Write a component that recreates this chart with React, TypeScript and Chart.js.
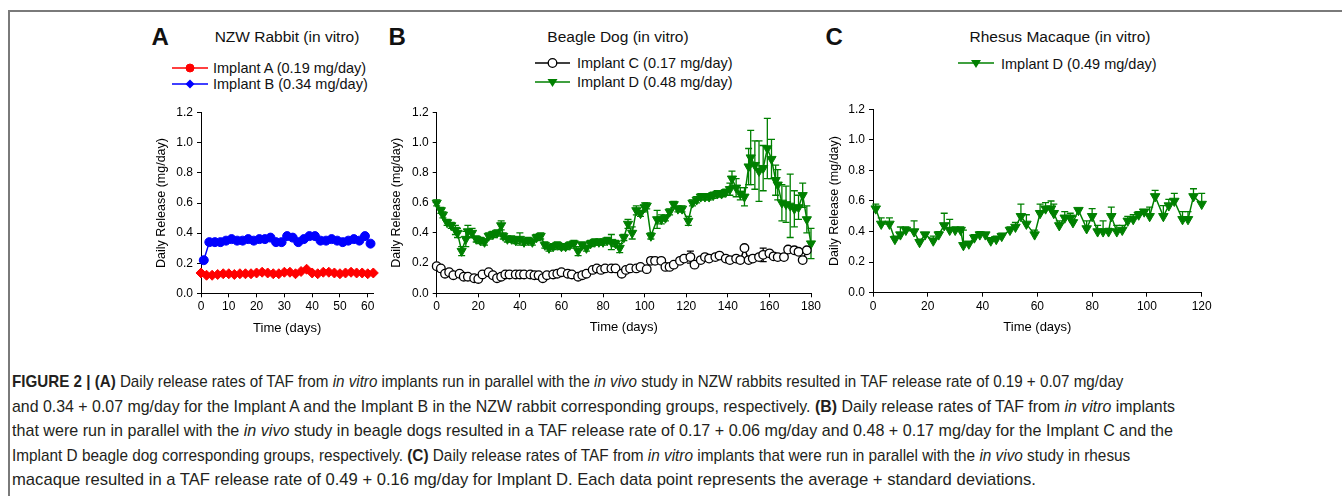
import React, { useEffect, useLayoutEffect, useRef } from "react";
import { Chart, registerables } from "chart.js";

Chart.register(...registerables);

const FONT = '"Liberation Sans", Arial, Helvetica, sans-serif';
const RED = "#ff0000";
const BLUE = "#0000ff";
const GREEN = "#008000";
const BLACK = "#000000";

// ---------- Panel A: NZW Rabbit ----------
const rabbitDaysA = [0, 2, 4, 6, 8, 10, 12, 14, 16, 18, 20, 22, 24, 26, 28, 30, 32, 34, 36, 38, 40, 42, 44, 46, 48, 50, 52, 54, 56, 58, 60, 62];
const rabbitImplantA = [0.135, 0.12, 0.12, 0.125, 0.13, 0.13, 0.125, 0.13, 0.13, 0.13, 0.135, 0.14, 0.135, 0.13, 0.13, 0.14, 0.14, 0.13, 0.145, 0.16, 0.135, 0.13, 0.14, 0.14, 0.135, 0.13, 0.135, 0.14, 0.135, 0.135, 0.13, 0.135];
const rabbitDaysB = [1, 3, 5, 7, 9, 11, 13, 15, 17, 19, 21, 23, 25, 27, 29, 31, 33, 35, 37, 39, 41, 43, 45, 47, 49, 51, 53, 55, 57, 59, 61];
const rabbitImplantB = [0.22, 0.34, 0.34, 0.34, 0.35, 0.36, 0.35, 0.35, 0.36, 0.35, 0.36, 0.36, 0.37, 0.34, 0.34, 0.38, 0.37, 0.34, 0.36, 0.38, 0.38, 0.35, 0.35, 0.36, 0.35, 0.34, 0.35, 0.36, 0.35, 0.38, 0.33];

// ---------- Panel B: Beagle Dog ----------
const dogDaysC = [0, 2, 4, 6, 8, 11, 13, 15, 18, 20, 22, 25, 27, 29, 31, 33, 35, 38, 40, 42, 45, 47, 49, 51, 53, 56, 58, 60, 63, 65, 68, 70, 72, 75, 77, 79, 81, 84, 86, 89, 91, 93, 96, 98, 101, 103, 105, 108, 110, 112, 114, 117, 119, 122, 124, 127, 129, 131, 134, 136, 139, 141, 144, 146, 148, 150, 152, 155, 157, 160, 162, 164, 167, 169, 172, 174, 176, 178];
const dogImplantC = [0.18, 0.165, 0.13, 0.14, 0.12, 0.13, 0.11, 0.11, 0.1, 0.095, 0.125, 0.14, 0.12, 0.1, 0.11, 0.125, 0.125, 0.125, 0.125, 0.125, 0.125, 0.12, 0.12, 0.1, 0.12, 0.125, 0.13, 0.14, 0.13, 0.125, 0.11, 0.12, 0.13, 0.155, 0.165, 0.155, 0.165, 0.165, 0.165, 0.13, 0.155, 0.165, 0.165, 0.175, 0.16, 0.215, 0.215, 0.215, 0.175, 0.175, 0.19, 0.215, 0.23, 0.24, 0.19, 0.22, 0.24, 0.23, 0.24, 0.25, 0.23, 0.22, 0.23, 0.22, 0.3, 0.22, 0.23, 0.24, 0.255, 0.265, 0.245, 0.24, 0.24, 0.29, 0.285, 0.275, 0.22, 0.285];
const dogErrC = [0.01, 0.01, 0.01, 0.01, 0.01, 0.01, 0.01, 0.01, 0.01, 0.01, 0.01, 0.01, 0.01, 0.01, 0.01, 0.01, 0.01, 0.01, 0.01, 0.01, 0.01, 0.01, 0.01, 0.01, 0.01, 0.01, 0.01, 0.01, 0.01, 0.01, 0.01, 0.01, 0.01, 0.01, 0.01, 0.01, 0.01, 0.01, 0.01, 0.01, 0.01, 0.01, 0.01, 0.01, 0.01, 0.02, 0.01, 0.01, 0.01, 0.01, 0.01, 0.01, 0.01, 0.04, 0.01, 0.01, 0.01, 0.01, 0.01, 0.01, 0.01, 0.01, 0.01, 0.01, 0.01, 0.01, 0.01, 0.01, 0.045, 0.01, 0.01, 0.01, 0.01, 0.01, 0.01, 0.01, 0.01, 0.01];
const dogDaysD = [0, 2, 3, 5, 7, 9, 10, 12, 14, 15, 17, 19, 21, 23, 25, 27, 29, 31, 32, 34, 36, 38, 40, 42, 44, 46, 48, 50, 52, 54, 56, 58, 60, 62, 64, 66, 68, 70, 72, 74, 76, 78, 80, 82, 84, 86, 88, 90, 92, 94, 96, 98, 100, 101, 103, 106, 108, 110, 112, 114, 116, 118, 121, 123, 125, 127, 129, 131, 133, 135, 137, 139, 141, 142, 144, 146, 148, 150, 151, 153, 155, 157, 159, 161, 163, 164, 166, 168, 170, 172, 174, 176, 178, 180];
const dogImplantD = [0.6, 0.55, 0.52, 0.47, 0.45, 0.42, 0.4, 0.28, 0.36, 0.41, 0.4, 0.36, 0.35, 0.34, 0.38, 0.39, 0.4, 0.45, 0.38, 0.36, 0.36, 0.35, 0.36, 0.34, 0.35, 0.34, 0.37, 0.38, 0.32, 0.3, 0.31, 0.32, 0.31, 0.31, 0.32, 0.33, 0.28, 0.32, 0.3, 0.33, 0.34, 0.34, 0.34, 0.35, 0.34, 0.33, 0.3, 0.37, 0.46, 0.4, 0.55, 0.53, 0.57, 0.58, 0.38, 0.49, 0.49, 0.5, 0.54, 0.59, 0.56, 0.56, 0.48, 0.6, 0.62, 0.64, 0.64, 0.64, 0.65, 0.66, 0.66, 0.67, 0.69, 0.76, 0.7, 0.66, 0.64, 0.84, 0.9, 0.85, 0.81, 0.83, 0.96, 0.89, 0.75, 0.72, 0.6, 0.59, 0.58, 0.56, 0.57, 0.65, 0.49, 0.33];
const dogErrD = [0.02, 0.02, 0.02, 0.02, 0.02, 0.03, 0.03, 0.03, 0.05, 0.04, 0.03, 0.02, 0.02, 0.02, 0.02, 0.02, 0.02, 0.03, 0.02, 0.02, 0.02, 0.02, 0.04, 0.02, 0.02, 0.02, 0.02, 0.02, 0.02, 0.02, 0.02, 0.02, 0.02, 0.02, 0.02, 0.02, 0.03, 0.02, 0.02, 0.02, 0.02, 0.02, 0.02, 0.02, 0.05, 0.02, 0.03, 0.02, 0.03, 0.04, 0.03, 0.02, 0.03, 0.02, 0.02, 0.06, 0.03, 0.02, 0.02, 0.02, 0.02, 0.02, 0.03, 0.02, 0.02, 0.02, 0.02, 0.02, 0.02, 0.02, 0.02, 0.02, 0.04, 0.05, 0.06, 0.04, 0.06, 0.12, 0.18, 0.16, 0.2, 0.15, 0.2, 0.13, 0.1, 0.1, 0.12, 0.12, 0.21, 0.12, 0.08, 0.08, 0.09, 0.1];

// ---------- Panel C: Rhesus Macaque ----------
const macaqueDays = [1, 3, 6, 8, 10, 12, 15, 17, 19, 22, 24, 26, 28, 30, 32, 33, 35, 37, 39, 41, 43, 45, 47, 50, 52, 54, 56, 59, 61, 63, 65, 66, 68, 70, 72, 73, 75, 78, 80, 82, 84, 86, 87, 89, 91, 93, 95, 97, 99, 101, 103, 106, 108, 110, 113, 115, 117, 120];
const macaqueImplantD = [0.55, 0.45, 0.45, 0.35, 0.38, 0.41, 0.4, 0.33, 0.38, 0.34, 0.38, 0.44, 0.41, 0.41, 0.41, 0.31, 0.32, 0.36, 0.38, 0.38, 0.34, 0.35, 0.37, 0.41, 0.43, 0.5, 0.45, 0.38, 0.52, 0.55, 0.55, 0.52, 0.44, 0.49, 0.49, 0.46, 0.54, 0.42, 0.5, 0.4, 0.4, 0.4, 0.5, 0.4, 0.41, 0.47, 0.48, 0.51, 0.53, 0.5, 0.63, 0.5, 0.57, 0.6, 0.48, 0.48, 0.63, 0.58];
const macaqueErrD = [0.03, 0.04, 0.04, 0.02, 0.05, 0.02, 0.07, 0.02, 0.01, 0.03, 0.02, 0.08, 0.07, 0.02, 0.02, 0.1, 0.01, 0.02, 0.02, 0.01, 0.02, 0.02, 0.02, 0.02, 0.03, 0.08, 0.06, 0.03, 0.06, 0.04, 0.05, 0.06, 0.03, 0.04, 0.03, 0.04, 0.01, 0.05, 0.05, 0.04, 0.07, 0.02, 0.06, 0.04, 0.03, 0.03, 0.03, 0.02, 0.01, 0.06, 0.04, 0.07, 0.04, 0.05, 0.05, 0.05, 0.05, 0.07];

// ---------- Axis ticks ----------
const yTickValues = [0, 0.2, 0.4, 0.6, 0.8, 1.0, 1.2];
const xTicksA = [0, 10, 20, 30, 40, 50, 60];
const xTicksB = [0, 20, 40, 60, 80, 100, 120, 140, 160, 180];
const xTicksC = [0, 20, 40, 60, 80, 100, 120];

const toXY = (xs: number[], ys: number[]) => xs.map((x, i) => ({ x, y: ys[i] }));

const errorBarPlugin = {
  id: "errorBars",
  beforeDatasetDraw(chart: any, args: any) {
    const ds = chart.data.datasets[args.index];
    const errs: number[] | undefined = ds.errorBars;
    if (!errs) return;
    const meta = args.meta;
    const yScale = chart.scales[meta.yAxisID];
    const ctx = chart.ctx;
    const up = ds.errorMode === "up";
    ctx.save();
    ctx.strokeStyle = ds.borderColor;
    ctx.lineWidth = 1.3;
    meta.data.forEach((pt: any, i: number) => {
      const e = errs[i];
      if (!e) return;
      const v = ds.data[i].y;
      const yTop = yScale.getPixelForValue(v + e);
      const yBot = up ? pt.y : yScale.getPixelForValue(v - e);
      ctx.beginPath();
      ctx.moveTo(pt.x, yTop);
      ctx.lineTo(pt.x, yBot);
      ctx.moveTo(pt.x - 3.5, yTop);
      ctx.lineTo(pt.x + 3.5, yTop);
      if (!up) {
        ctx.moveTo(pt.x - 3.5, yBot);
        ctx.lineTo(pt.x + 3.5, yBot);
      }
      ctx.stroke();
    });
    ctx.restore();
  },
};

type Box = { left: number; top: number; right: number; bottom: number };
type PanelCfg = {
  canvas: Box;
  area: Box;
  xMax: number;
  xTicks: number[];
  yTitleX: number;
  xTitleY: number;
  datasets: any[];
};

const TICK_FONT = 12;
const YTITLE_FONT = 12.5;
const XTITLE_FONT = 13;

function buildConfig(cfg: PanelCfg): any {
  const { canvas, area } = cfg;
  const lhY = YTITLE_FONT * 1.2;
  const lhX = XTITLE_FONT * 1.2;
  const axisCommon = {
    grid: { display: true, drawOnChartArea: false, drawTicks: true, tickLength: 4, color: BLACK, lineWidth: 1 },
    border: { display: true, color: BLACK, width: 1 },
  };
  return {
    type: "line",
    data: { datasets: cfg.datasets },
    plugins: [errorBarPlugin],
    options: {
      responsive: false,
      animation: false,
      devicePixelRatio: 1,
      events: [],
      layout: {
        padding: { top: area.top - canvas.top, right: canvas.right - area.right, left: 0, bottom: 0 },
      },
      plugins: { legend: { display: false }, tooltip: { enabled: false }, title: { display: false } },
      scales: {
        x: {
          type: "linear",
          min: 0,
          max: cfg.xMax,
          ...axisCommon,
          ticks: { color: BLACK, font: { family: FONT, size: TICK_FONT }, padding: 2.5, maxRotation: 0, autoSkip: false, includeBounds: false },
          afterBuildTicks: (s: any) => {
            s.ticks = cfg.xTicks.map((v) => ({ value: v }));
          },
          title: {
            display: true,
            text: "Time (days)",
            color: BLACK,
            font: { family: FONT, size: XTITLE_FONT },
            padding: { top: 0, bottom: canvas.bottom - cfg.xTitleY - lhX / 2 },
          },
          afterFit: (s: any) => {
            s.height = canvas.bottom - area.bottom;
          },
        },
        y: {
          type: "linear",
          min: 0,
          max: 1.2,
          ...axisCommon,
          ticks: {
            color: BLACK,
            font: { family: FONT, size: TICK_FONT },
            padding: 4,
            includeBounds: false,
            callback: (v: any) => Number(v).toFixed(1),
          },
          afterBuildTicks: (s: any) => {
            s.ticks = yTickValues.map((v) => ({ value: v }));
          },
          title: {
            display: true,
            text: "Daily Release (mg/day)",
            color: BLACK,
            font: { family: FONT, size: YTITLE_FONT },
            padding: { top: cfg.yTitleX - canvas.left - lhY / 2, bottom: 0 },
          },
          afterFit: (s: any) => {
            s.width = area.left - canvas.left;
          },
        },
      },
    },
  };
}

function PanelChart({ cfg }: { cfg: PanelCfg }) {
  const ref = useRef<HTMLCanvasElement>(null);
  useEffect(() => {
    const chart = new Chart(ref.current as HTMLCanvasElement, buildConfig(cfg));
    return () => chart.destroy();
  }, [cfg]);
  const w = cfg.canvas.right - cfg.canvas.left;
  const h = cfg.canvas.bottom - cfg.canvas.top;
  return (
    <canvas
      ref={ref}
      width={w}
      height={h}
      style={{ position: "absolute", left: cfg.canvas.left, top: cfg.canvas.top, width: w, height: h }}
    />
  );
}

const lineDs = (label: string, data: any[], color: string, extra: any) => ({
  label,
  data,
  borderColor: color,
  backgroundColor: color,
  borderWidth: 1.5,
  pointBorderColor: color,
  pointBackgroundColor: color,
  pointBorderWidth: 1,
  tension: 0,
  clip: false,
  ...extra,
});

const PANEL_A: PanelCfg = {
  canvas: { left: 145, top: 95, right: 392, bottom: 345 },
  area: { left: 201, top: 112.7, right: 373.3, bottom: 293.3 },
  xMax: 62,
  xTicks: xTicksA,
  yTitleX: 162,
  xTitleY: 328,
  datasets: [
    lineDs("Implant A (0.19 mg/day)", toXY(rabbitDaysA, rabbitImplantA), RED, { pointStyle: "rectRot", pointRadius: 5 }),
    lineDs("Implant B (0.34 mg/day)", toXY(rabbitDaysB, rabbitImplantB), BLUE, { pointStyle: "circle", pointRadius: 4.5 }),
  ],
};

const PANEL_B: PanelCfg = {
  canvas: { left: 380, top: 95, right: 830, bottom: 345 },
  area: { left: 436.7, top: 112.3, right: 811, bottom: 293.3 },
  xMax: 180,
  xTicks: xTicksB,
  yTitleX: 396.7,
  xTitleY: 327,
  datasets: [
    lineDs("Implant C (0.17 mg/day)", toXY(dogDaysC, dogImplantC), BLACK, {
      pointStyle: "circle",
      pointRadius: 4.3,
      pointBackgroundColor: "#ffffff",
      pointBorderWidth: 1.3,
      errorBars: dogErrC,
      errorMode: "both",
    }),
    lineDs("Implant D (0.48 mg/day)", toXY(dogDaysD, dogImplantD), GREEN, {
      pointStyle: "triangle",
      rotation: 180,
      pointRotation: 180,
      pointRadius: 5.3,
      errorBars: dogErrD,
      errorMode: "both",
    }),
  ],
};

const PANEL_C: PanelCfg = {
  canvas: { left: 820, top: 92, right: 1222, bottom: 345 },
  area: { left: 873, top: 109.3, right: 1201.7, bottom: 292.7 },
  xMax: 120,
  xTicks: xTicksC,
  yTitleX: 835,
  xTitleY: 327,
  datasets: [
    lineDs("Implant D (0.49 mg/day)", toXY(macaqueDays, macaqueImplantD), GREEN, {
      pointStyle: "triangle",
      rotation: 180,
      pointRotation: 180,
      pointRadius: 5.5,
      errorBars: macaqueErrD,
      errorMode: "up",
    }),
  ],
};

function Marker({ type, color, cx, cy }: { type: string; color: string; cx: number; cy: number }) {
  if (type === "circle") return <circle cx={cx} cy={cy} r={4} fill={color} stroke={color} />;
  if (type === "open") return <circle cx={cx} cy={cy} r={4.3} fill="#fff" stroke={color} strokeWidth={1.3} />;
  if (type === "diamond")
    return <polygon points={`${cx},${cy - 4.5} ${cx + 4.5},${cy} ${cx},${cy + 4.5} ${cx - 4.5},${cy}`} fill={color} />;
  return <polygon points={`${cx - 5},${cy - 3} ${cx + 5},${cy - 3} ${cx},${cy + 5}`} fill={color} />;
}

function LegendItem(p: { x1: number; x2: number; y: number; textX: number; color: string; marker: string; label: string }) {
  const w = p.x2 - p.x1;
  const fs = 14.5;
  return (
    <>
      <svg style={{ position: "absolute", left: p.x1, top: p.y - 7 }} width={w} height={14}>
        <line x1={0} y1={7} x2={w} y2={7} stroke={p.color} strokeWidth={1.6} />
        <Marker type={p.marker} color={p.color} cx={w / 2} cy={7} />
      </svg>
      <div
        style={{
          position: "absolute",
          left: p.textX,
          top: p.y + 0.8 - fs / 2,
          fontFamily: FONT,
          fontSize: fs,
          lineHeight: `${fs}px`,
          whiteSpace: "nowrap",
          color: "#111",
        }}
      >
        {p.label}
      </div>
    </>
  );
}

function TextAt({ text, cx, cy, size, bold, left }: { text: string; cx?: number; cy: number; size: number; bold?: boolean; left?: number }) {
  const style: any = {
    position: "absolute",
    top: cy - size / 2,
    fontFamily: FONT,
    fontSize: size,
    lineHeight: `${size}px`,
    fontWeight: bold ? 700 : 400,
    whiteSpace: "nowrap",
    color: "#111",
  };
  if (left !== undefined) style.left = left;
  else {
    style.left = (cx as number) - 200;
    style.width = 400;
    style.textAlign = "center";
  }
  return <div style={style}>{text}</div>;
}

type Part = { t: string; b?: boolean; i?: boolean };
const captionLines: { right: number; cy: number; parts: Part[] }[] = [
  {
    right: 1123,
    cy: 381.5,
    parts: [
      { t: "FIGURE 2 | (A)", b: true },
      { t: " Daily release rates of TAF from " },
      { t: "in vitro", i: true },
      { t: " implants run in parallel with the " },
      { t: "in vivo", i: true },
      { t: " study in NZW rabbits resulted in TAF release rate of 0.19 + 0.07 mg/day" },
    ],
  },
  {
    right: 1175,
    cy: 406,
    parts: [
      { t: "and 0.34 + 0.07 mg/day for the Implant A and the Implant B in the NZW rabbit corresponding groups, respectively. " },
      { t: "(B)", b: true },
      { t: " Daily release rates of TAF from " },
      { t: "in vitro", i: true },
      { t: " implants" },
    ],
  },
  {
    right: 1173,
    cy: 430.5,
    parts: [
      { t: "that were run in parallel with the " },
      { t: "in vivo", i: true },
      { t: " study in beagle dogs resulted in a TAF release rate of 0.17 + 0.06 mg/day and 0.48 + 0.17 mg/day for the Implant C and the" },
    ],
  },
  {
    right: 1130.5,
    cy: 455,
    parts: [
      { t: "Implant D beagle dog corresponding groups, respectively. " },
      { t: "(C)", b: true },
      { t: " Daily release rates of TAF from " },
      { t: "in vitro", i: true },
      { t: " implants that were run in parallel with the " },
      { t: "in vivo", i: true },
      { t: " study in rhesus" },
    ],
  },
  {
    right: 1035.5,
    cy: 479.5,
    parts: [{ t: "macaque resulted in a TAF release rate of 0.49 + 0.16 mg/day for Implant D. Each data point represents the average + standard deviations." }],
  },
];

const CAPTION_LEFT = 12;
const CAPTION_FONT = 17;

function CaptionLine({ line }: { line: (typeof captionLines)[number] }) {
  const ref = useRef<HTMLDivElement>(null);
  useLayoutEffect(() => {
    const el = ref.current;
    if (!el) return;
    const w = el.offsetWidth;
    const target = line.right - CAPTION_LEFT;
    if (w > 0) el.style.transform = `scaleX(${target / w})`;
  }, [line]);
  return (
    <div
      ref={ref}
      style={{
        position: "absolute",
        left: CAPTION_LEFT,
        top: line.cy - CAPTION_FONT / 2,
        fontFamily: FONT,
        fontSize: CAPTION_FONT,
        lineHeight: `${CAPTION_FONT}px`,
        whiteSpace: "nowrap",
        color: "#231f20",
        transformOrigin: "0 0",
      }}
    >
      {line.parts.map((p, i) => (
        <span key={i} style={{ fontWeight: p.b ? 700 : 400, fontStyle: p.i ? "italic" : "normal" }}>
          {p.t}
        </span>
      ))}
    </div>
  );
}

export default function App() {
  return (
    <div style={{ position: "absolute", left: 0, top: 0, width: 1342, height: 496, overflow: "hidden", background: "#fff" }}>
      <div
        style={{
          position: "absolute",
          left: 8,
          top: 9.5,
          width: 1400,
          height: 600,
          borderTop: "2px solid #7a7a7a",
          borderLeft: "2px solid #7a7a7a",
        }}
      />
      <TextAt text="A" left={151.5} cy={36.5} size={24} bold />
      <TextAt text="B" left={388.5} cy={36.5} size={24} bold />
      <TextAt text="C" left={825.5} cy={36.5} size={24} bold />

      <TextAt text="NZW Rabbit (in vitro)" cx={287} cy={36.5} size={15.5} />
      <TextAt text="Beagle Dog (in vitro)" cx={618} cy={36.5} size={15.5} />
      <TextAt text="Rhesus Macaque (in vitro)" cx={1060} cy={36.5} size={15.5} />

      <LegendItem x1={172} x2={208} y={67.5} textX={213} color={RED} marker="circle" label="Implant A (0.19 mg/day)" />
      <LegendItem x1={172} x2={208} y={83.5} textX={213} color={BLUE} marker="diamond" label="Implant B (0.34 mg/day)" />
      <LegendItem x1={535} x2={570} y={62.7} textX={577} color={BLACK} marker="open" label="Implant C (0.17 mg/day)" />
      <LegendItem x1={535} x2={570} y={81.5} textX={577} color={GREEN} marker="tri" label="Implant D (0.48 mg/day)" />
      <LegendItem x1={958} x2={994} y={63.3} textX={1001} color={GREEN} marker="tri" label="Implant D (0.49 mg/day)" />

      <PanelChart cfg={PANEL_A} />
      <PanelChart cfg={PANEL_B} />
      <PanelChart cfg={PANEL_C} />

      {captionLines.map((l, i) => (
        <CaptionLine key={i} line={l} />
      ))}
    </div>
  );
}
